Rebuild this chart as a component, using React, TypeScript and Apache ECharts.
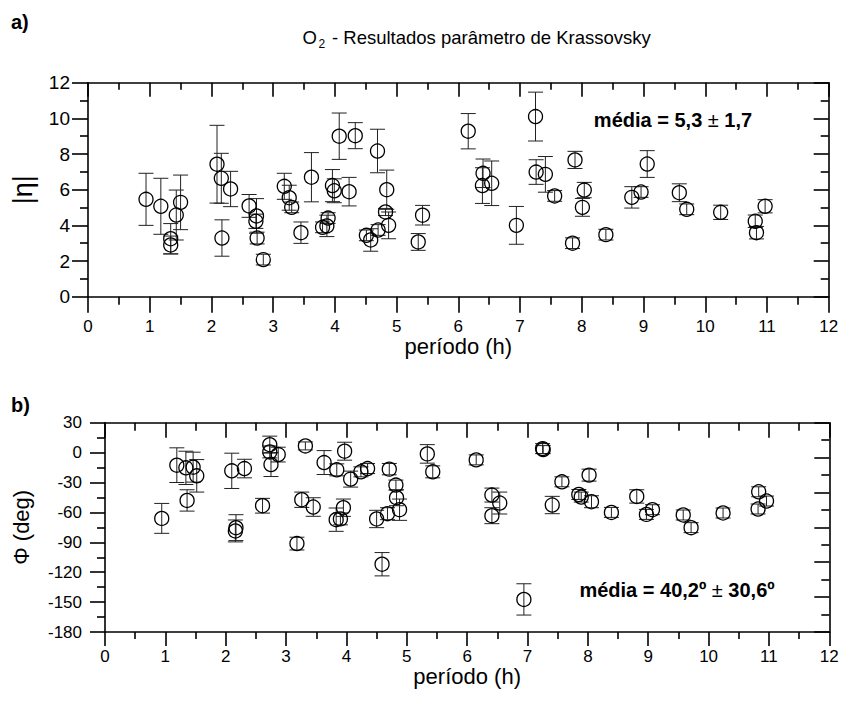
import React, { useEffect, useRef } from "react";
import * as echarts from "echarts";

// ---- Panel a) : |eta| vs period ----
const periodA = [0.94, 1.18, 1.34, 1.34, 1.43, 1.5, 2.09, 2.16, 2.17, 2.31, 2.61, 2.73, 2.72, 2.74, 2.84, 3.18, 3.26, 3.3, 3.45, 3.62, 3.8, 3.87, 3.89, 3.96, 3.99, 4.07, 4.33, 4.23, 4.69, 4.84, 4.82, 4.87, 4.51, 4.58, 4.7, 5.42, 5.35, 6.16, 6.4, 6.39, 6.54, 6.94, 7.25, 7.26, 7.41, 7.56, 7.89, 7.85, 8.04, 8.01, 8.39, 8.81, 8.96, 9.06, 9.58, 9.7, 10.25, 10.81, 10.83, 10.97];
const etaA = [5.46, 5.07, 3.25, 2.9, 4.58, 5.29, 7.43, 6.64, 3.29, 6.04, 5.09, 4.53, 4.23, 3.29, 2.08, 6.19, 5.55, 5.01, 3.59, 6.7, 3.89, 3.97, 4.41, 6.23, 5.94, 9.0, 9.03, 5.89, 8.17, 6.0, 4.75, 4.0, 3.44, 3.18, 3.74, 4.57, 3.07, 9.28, 6.92, 6.23, 6.36, 4.0, 10.1, 6.99, 6.86, 5.65, 7.67, 3.0, 5.98, 5.01, 3.48, 5.57, 5.87, 7.44, 5.83, 4.9, 4.73, 4.23, 3.59, 5.07];
const etaErrA = [1.46, 1.57, 0.85, 0.5, 1.4, 1.53, 2.18, 1.4, 1.02, 0.99, 0.64, 0.97, 0.4, 0.33, 0.3, 0.73, 0.7, 0.3, 0.6, 1.38, 0.3, 0.6, 0.3, 0.9, 0.67, 1.3, 0.73, 0.8, 1.22, 1.1, 0.2, 0.75, 0.3, 0.63, 0.3, 0.55, 0.47, 0.99, 0.8, 1.0, 1.25, 1.06, 1.37, 0.69, 1.0, 0.3, 0.48, 0.3, 0.43, 0.5, 0.3, 0.6, 0.3, 0.75, 0.5, 0.3, 0.4, 0.35, 0.35, 0.37];

// ---- Panel b) : Phi vs period ----
const periodB = [0.94, 1.19, 1.34, 1.46, 1.52, 1.36, 2.1, 2.31, 2.17, 2.16, 2.61, 2.73, 2.73, 2.75, 2.87, 3.18, 3.32, 3.26, 3.45, 3.63, 3.84, 3.83, 3.9, 3.97, 4.07, 4.24, 4.35, 3.95, 4.5, 4.68, 4.88, 4.83, 4.82, 4.71, 4.59, 5.34, 5.43, 6.15, 6.41, 6.54, 6.41, 6.94, 7.25, 7.26, 7.57, 7.41, 7.85, 7.89, 8.02, 8.06, 8.39, 8.81, 8.97, 9.07, 9.58, 9.71, 10.24, 10.83, 10.82, 10.96];
const phiB = [-66, -12.6, -15.3, -14.6, -23.3, -48, -18.3, -16, -75.3, -78.6, -53.3, 8, 0.7, -12, -2, -91.3, 6.7, -47.3, -54.6, -10, -17.3, -67.3, -66.5, 1.4, -26.6, -19.3, -16, -55.3, -66.6, -61.3, -57.3, -45.3, -32.6, -16.6, -112, -1.3, -19.3, -7.3, -42.6, -50.6, -63.3, -147.3, 4, 3, -29.3, -52.6, -42, -44.6, -22.6, -49.3, -60, -44, -62, -57.3, -62.6, -75.3, -60.6, -39.3, -56.6, -48.6];
const phiErrB = [15, 17.4, 16.7, 15, 16.3, 10.7, 17.7, 9.3, 13, 11, 7.4, 8.5, 6, 12, 7.4, 6.4, 4, 7.7, 9.3, 12, 6, 11.7, 6, 9, 8, 5, 5, 8.7, 8.7, 6, 10.7, 8, 5, 5.7, 11.7, 9.3, 6, 5, 7, 11, 8, 15.7, 5, 4, 5, 8.7, 5, 5, 6, 6, 5, 6.7, 5, 5, 5, 5, 5, 5, 5, 5];

const title = "- Resultados parâmetro de Krassovsky";
const xName = "período (h)";
const yNameA = "|η|";
const yNameB = "Φ (deg)";
const meanA = "{b|média = 5,3 }{r|±}{b| 1,7}";
const meanB = "{b|média = 40,2º }{r|±}{b| 30,6º}";

const FONT = "'Liberation Sans', Arial, sans-serif";
const BLACK = "#000";

function errRender(params: any, api: any) {
  const x = api.value(0);
  const lo = api.coord([x, api.value(1)]);
  const hi = api.coord([x, api.value(2)]);
  const hw = 7.5;
  const style = { stroke: "#222", lineWidth: 1 };
  return {
    type: "group",
    children: [
      { type: "line", shape: { x1: lo[0], y1: lo[1], x2: hi[0], y2: hi[1] }, style },
      { type: "line", shape: { x1: lo[0] - hw, y1: lo[1], x2: lo[0] + hw, y2: lo[1] }, style },
      { type: "line", shape: { x1: hi[0] - hw, y1: hi[1], x2: hi[0] + hw, y2: hi[1] }, style },
    ],
  };
}

const lineStyle = { color: BLACK, width: 1.6 };

function xAxis(gridIndex: number, pos: string, labels: boolean, major: number, minor: number, labelMargin: number, nameGap: number) {
  return {
    type: "value",
    gridIndex,
    position: pos,
    min: 0,
    max: 12,
    interval: 1,
    name: labels ? xName : "",
    nameLocation: "middle",
    nameGap,
    nameTextStyle: { fontFamily: FONT, fontSize: 22, color: BLACK },
    axisLine: { show: true, onZero: false, lineStyle },
    axisTick: { show: true, inside: !labels, length: major, lineStyle },
    minorTick: { show: true, splitNumber: 2, length: minor, lineStyle },
    splitLine: { show: false },
    axisLabel: { show: labels, margin: labelMargin, fontFamily: FONT, fontSize: 17, color: BLACK },
  };
}

export default function App() {
  const ref = useRef<HTMLDivElement>(null);
  useEffect(() => {
    if (!ref.current) return;
    const chart = echarts.init(ref.current, undefined, { renderer: "svg" });
    const option: any = {
      animation: false,
      backgroundColor: "#fff",
      grid: [
        { left: 88, top: 82.7, width: 740.7, height: 214 },
        { left: 105, top: 422.7, width: 724.3, height: 209.3 },
      ],
      xAxis: [
        xAxis(0, "bottom", true, 16, 8, 21, 37),
        xAxis(0, "top", false, 14, 7, 8, 0),
        xAxis(1, "bottom", true, 14, 7, 16, 30),
        xAxis(1, "top", false, 15, 8, 8, 0),
      ],
      yAxis: [
        {
          type: "value", gridIndex: 0, position: "left", min: 0, max: 12, interval: 2,
          name: yNameA, nameLocation: "middle", nameGap: 52,
          nameTextStyle: { fontFamily: FONT, fontSize: 27, color: BLACK },
          axisLine: { show: true, onZero: false, lineStyle },
          axisTick: { show: true, length: 16, lineStyle },
          minorTick: { show: true, splitNumber: 2, length: 8, lineStyle },
          splitLine: { show: false },
          axisLabel: { margin: 18, fontFamily: FONT, fontSize: 19, color: BLACK },
        },
        {
          type: "value", gridIndex: 0, position: "right", min: 0, max: 12, interval: 2,
          axisLine: { show: true, onZero: false, lineStyle },
          axisTick: { show: true, inside: true, length: 15, lineStyle },
          minorTick: { show: true, splitNumber: 2, length: 8, lineStyle },
          splitLine: { show: false },
          axisLabel: { show: false },
        },
        {
          type: "value", gridIndex: 1, position: "left", min: -180, max: 30, interval: 30,
          name: yNameB, nameLocation: "middle", nameGap: 73,
          nameTextStyle: { fontFamily: FONT, fontSize: 22, color: BLACK },
          axisLine: { show: true, onZero: false, lineStyle },
          axisTick: { show: true, length: 15, lineStyle },
          minorTick: { show: true, splitNumber: 2, length: 8, lineStyle },
          splitLine: { show: false },
          axisLabel: { margin: 23, fontFamily: FONT, fontSize: 17, color: BLACK },
        },
        {
          type: "value", gridIndex: 1, position: "right", min: 0, max: 12, interval: 2,
          axisLine: { show: true, onZero: false, lineStyle },
          axisTick: { show: true, inside: true, length: 15, lineStyle },
          minorTick: { show: true, splitNumber: 2, length: 8, lineStyle },
          splitLine: { show: false },
          axisLabel: { show: false },
        },
      ],
      series: [
        {
          type: "custom", xAxisIndex: 0, yAxisIndex: 0, renderItem: errRender, clip: false,
          encode: { x: 0, y: [1, 2] },
          data: periodA.map((x, i) => [x, etaA[i] - etaErrA[i], etaA[i] + etaErrA[i]]),
          z: 2,
        },
        {
          type: "scatter", xAxisIndex: 0, yAxisIndex: 0, symbol: "circle", symbolSize: 14,
          itemStyle: { color: "rgba(0,0,0,0)", borderColor: BLACK, borderWidth: 1.3, opacity: 1 },
          data: periodA.map((x, i) => [x, etaA[i]]),
          z: 3,
        },
        {
          type: "custom", xAxisIndex: 2, yAxisIndex: 2, renderItem: errRender, clip: false,
          encode: { x: 0, y: [1, 2] },
          data: periodB.map((x, i) => [x, phiB[i] - phiErrB[i], phiB[i] + phiErrB[i]]),
          z: 2,
        },
        {
          type: "scatter", xAxisIndex: 2, yAxisIndex: 2, symbol: "circle", symbolSize: 14,
          itemStyle: { color: "rgba(0,0,0,0)", borderColor: BLACK, borderWidth: 1.3, opacity: 1 },
          data: periodB.map((x, i) => [x, phiB[i]]),
          z: 3,
        },
      ],
      graphic: [
        { type: "text", x: 11, y: 22, style: { text: "a)", fontFamily: FONT, fontSize: 20, fontWeight: "bold", fill: BLACK, verticalAlign: "middle" } },
        { type: "text", x: 11, y: 405, style: { text: "b)", fontFamily: FONT, fontSize: 20, fontWeight: "bold", fill: BLACK, verticalAlign: "middle" } },
        { type: "text", x: 317, y: 37, style: { text: "O", fontFamily: FONT, fontSize: 18.5, fill: BLACK, align: "right", verticalAlign: "middle" } },
        { type: "text", x: 318.5, y: 44, style: { text: "2", fontFamily: FONT, fontSize: 12, fill: BLACK, align: "left", verticalAlign: "middle" } },
        { type: "text", x: 332, y: 37, style: { text: title, fontFamily: FONT, fontSize: 18.5, fill: BLACK, align: "left", verticalAlign: "middle" } },
        {
          type: "text", x: 673, y: 120,
          style: {
            text: meanA, align: "center", verticalAlign: "middle", fill: BLACK,
            rich: {
              b: { fontFamily: FONT, fontSize: 20, fontWeight: "bold", fill: BLACK },
              r: { fontFamily: FONT, fontSize: 20, fill: BLACK },
            },
          },
        },
        {
          type: "text", x: 677, y: 590,
          style: {
            text: meanB, align: "center", verticalAlign: "middle", fill: BLACK,
            rich: {
              b: { fontFamily: FONT, fontSize: 20, fontWeight: "bold", fill: BLACK },
              r: { fontFamily: FONT, fontSize: 20, fill: BLACK },
            },
          },
        },
      ],
    };
    chart.setOption(option);
    return () => chart.dispose();
  }, []);
  return (
    <div
      ref={ref}
      style={{ position: "absolute", left: 0, top: 0, width: 843, height: 702, background: "#fff" }}
    />
  );
}
